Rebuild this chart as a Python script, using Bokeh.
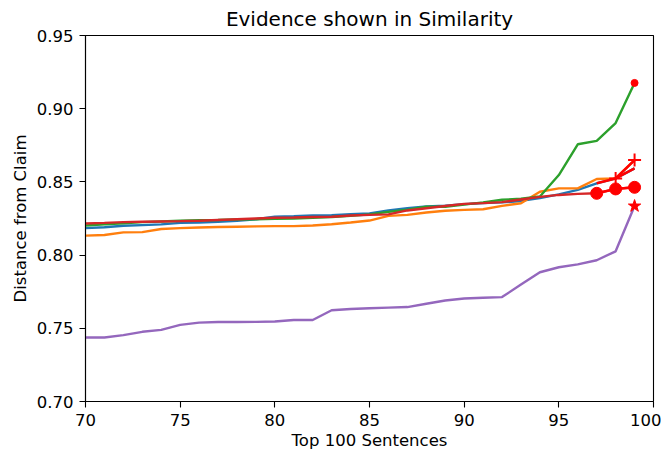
from bokeh.plotting import figure
from bokeh.embed import file_html
from bokeh.resources import INLINE
from bokeh.layouts import row
from bokeh.models import Range1d, FixedTicker, CustomJSTickFormatter, Spacer

# ---- data ----
x_vals = list(range(70, 100))

blue = [0.8184, 0.8190, 0.8200, 0.8205, 0.8210, 0.8220, 0.8222, 0.8228, 0.8234, 0.8245,
        0.8262, 0.8265, 0.8270, 0.8272, 0.8280, 0.8285, 0.8305, 0.8320, 0.8332, 0.8338,
        0.8348, 0.8355, 0.8360, 0.8370, 0.8390, 0.8415, 0.8445, 0.8490, 0.8524, 0.8592]
orange = [0.8133, 0.8137, 0.8155, 0.8157, 0.8178, 0.8184, 0.8189, 0.8192, 0.8194, 0.8196,
          0.8198, 0.8198, 0.8202, 0.8211, 0.8223, 0.8236, 0.8268, 0.8275, 0.8291, 0.8303,
          0.8309, 0.8313, 0.8336, 0.8354, 0.8433, 0.8456, 0.8456, 0.8520, 0.8524, 0.8649]
green = [0.8202, 0.8210, 0.8218, 0.8225, 0.8230, 0.8235, 0.8238, 0.8240, 0.8243, 0.8245,
         0.8248, 0.8250, 0.8255, 0.8260, 0.8268, 0.8278, 0.8295, 0.8310, 0.8330, 0.8330,
         0.8345, 0.8360, 0.8378, 0.8385, 0.8400, 0.8547, 0.8757, 0.8780, 0.8902, 0.9176]
red = [0.8216, 0.8220, 0.8225, 0.8228, 0.8230, 0.8232, 0.8235, 0.8240, 0.8245, 0.8250,
       0.8255, 0.8257, 0.8260, 0.8262, 0.8270, 0.8275, 0.8278, 0.8305, 0.8320, 0.8335,
       0.8350, 0.8355, 0.8362, 0.8380, 0.8398, 0.8411, 0.8418, 0.8422, 0.8452, 0.8463]
purple = [0.7437, 0.7437, 0.7453, 0.7476, 0.7489, 0.7523, 0.7539, 0.7543, 0.7543, 0.7544,
          0.7546, 0.7557, 0.7557, 0.7623, 0.7632, 0.7637, 0.7641, 0.7645, 0.7668, 0.7690,
          0.7704, 0.7709, 0.7713, 0.7799, 0.7883, 0.7917, 0.7937, 0.7965, 0.8026, 0.8335]

series = [blue, orange, green, red, purple]
series_colors = ["#1f77b4", "#ff7f0e", "#2ca02c", "#d62728", "#9467bd"]

# evidence positions (highlighted in red) per series
evidence_x = [[97, 98, 99], [98, 99], [99], [97, 98, 99], [99]]
evidence_marker = [None, "cross", "dot", "circle", "star"]

x_ticks = [70, 75, 80, 85, 90, 95, 100]
y_ticks = [0.70, 0.75, 0.80, 0.85, 0.90, 0.95]

FONT = "DejaVu Sans"

p = figure(frame_width=568, frame_height=366, output_backend="svg", toolbar_location=None,
           x_range=Range1d(70, 100), y_range=Range1d(0.70, 0.95),
           min_border_left=70, min_border_right=8, min_border_top=28, min_border_bottom=10,
           title="Evidence shown in Similarity")

p.title.text_font = FONT
p.title.text_font_size = "20px"
p.title.text_font_style = "normal"
p.title.text_color = "black"
p.title.align = "center"
p.title.offset = 0
p.title.standoff = 9

p.xgrid.visible = False
p.ygrid.visible = False
p.outline_line_color = "black"
p.outline_line_width = 1.1
p.outline_line_alpha = 1.0
p.background_fill_color = "white"
p.border_fill_color = "white"

for ax in (p.xaxis[0], p.yaxis[0]):
    ax.axis_line_color = "black"
    ax.axis_line_width = 1.1
    ax.major_tick_in = 0
    ax.major_tick_out = 6
    ax.minor_tick_in = 0
    ax.minor_tick_out = 0
    ax.major_tick_line_color = "black"
    ax.major_tick_line_width = 1.1
    ax.major_label_text_font = FONT
    ax.major_label_text_font_size = "16.5px"
    ax.major_label_text_color = "black"
    ax.axis_label_text_font = FONT
    ax.axis_label_text_font_size = "16.5px"
    ax.axis_label_text_font_style = "normal"
    ax.axis_label_text_color = "black"

p.xaxis.ticker = FixedTicker(ticks=x_ticks)
p.yaxis.ticker = FixedTicker(ticks=y_ticks)
p.yaxis.formatter = CustomJSTickFormatter(code="return tick.toFixed(2);")
p.xaxis.axis_label = "Top 100 Sentences"
p.yaxis.axis_label = "Distance from Claim"
p.xaxis.major_label_standoff = 6
p.yaxis.major_label_standoff = 6
p.xaxis.axis_label_standoff = 2
p.yaxis.axis_label_standoff = 4

for ys, col in zip(series, series_colors):
    p.line(x_vals, ys, line_color=col, line_width=2.4)

for ys, ex, mk in zip(series, evidence_x, evidence_marker):
    ey = [ys[x_vals.index(v)] for v in ex]
    if len(ex) > 1:
        p.line(ex, ey, line_color="#ff0000", line_width=2.6)
    if mk == "circle":
        p.scatter(ex, ey, marker="circle", size=12, fill_color="#ff0000", line_color="#ff0000")
    elif mk == "dot":
        p.scatter(ex, ey, marker="circle", size=7, fill_color="#ff0000", line_color="#ff0000")
    elif mk == "cross":
        p.scatter(ex, ey, marker="cross", size=13, line_color="#ff0000", line_width=2)
    elif mk == "star":
        p.scatter(ex, ey, marker="star", size=13, fill_color="#ff0000", line_color="#ff0000")

layout = row(Spacer(width=7, height=10), p)

open("out.html", "w").write(file_html(layout, INLINE))
